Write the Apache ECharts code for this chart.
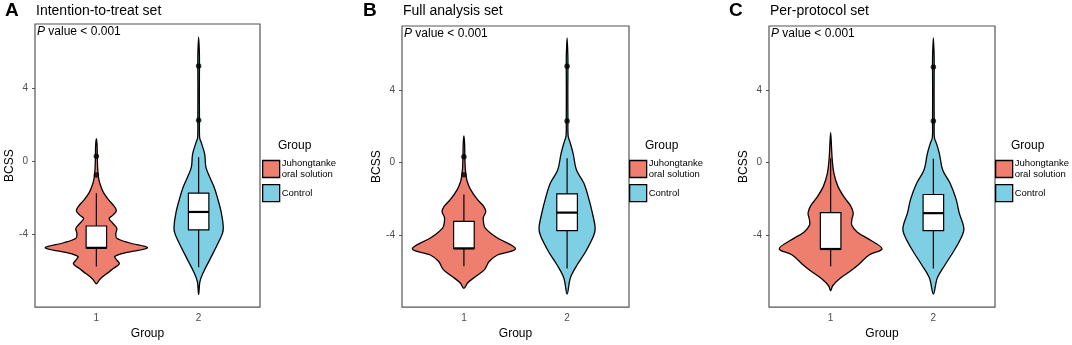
<!DOCTYPE html>
<html>
<head>
<meta charset="utf-8">
<script src="https://cdn.jsdelivr.net/npm/echarts@6/dist/echarts.min.js"></script>
<style>
  html, body { margin: 0; padding: 0; background: #fff; }
  #chart { width: 1072px; height: 345px; }
</style>
</head>
<body>
<div id="chart"></div>
<script>
// --- data ---
var groupNames = ['Juhongtanke oral solution', 'Control'];
var panelLetters = ['A', 'B', 'C'];
var panelTitles = ['Intention-to-treat set', 'Full analysis set', 'Per-protocol set'];
var xTicks = [1, 2];
var yTicks = [-4, 0, 4];

// violin outlines: [BCSS, half width of the violin in group units]
var ittJuhong = [[1.26, 0], [0.9, 0.007], [0.3, 0.009], [-0.4, 0.013], [-0.9, 0.022], [-1.3, 0.04], [-1.7, 0.07],
  [-2.1, 0.12], [-2.45, 0.175], [-2.7, 0.195], [-2.95, 0.16], [-3.12, 0.125], [-3.35, 0.155], [-3.65, 0.2],
  [-3.95, 0.19], [-4.2, 0.2], [-4.45, 0.32], [-4.73, 0.5], [-4.98, 0.3], [-5.2, 0.18], [-5.4, 0.2],
  [-5.6, 0.225], [-5.85, 0.17], [-6.15, 0.1], [-6.45, 0.035], [-6.7, 0]];
var ittControl = [[6.83, 0], [6.0, 0.007], [5.29, 0.008], [4.0, 0.007], [2.26, 0.008], [1.31, 0.01], [1.04, 0.026],
  [0.41, 0.059], [-0.3, 0.071], [-0.84, 0.108], [-1.38, 0.15], [-2.0, 0.185], [-2.81, 0.222], [-3.6, 0.241],
  [-3.95, 0.232], [-4.6, 0.179], [-5.32, 0.114], [-6.04, 0.049], [-6.57, 0.013], [-7.29, 0]];
var fasJuhong = [[1.48, 0], [1.0, 0.007], [0.31, 0.009], [-0.3, 0.013], [-0.68, 0.02], [-1.04, 0.032], [-1.49, 0.065],
  [-2.03, 0.13], [-2.4, 0.19], [-2.7, 0.212], [-3.03, 0.188], [-3.3, 0.19], [-3.6, 0.205], [-4.11, 0.31],
  [-4.76, 0.5], [-5.1, 0.325], [-5.46, 0.244], [-5.91, 0.2], [-6.3, 0.11], [-6.65, 0.035], [-6.95, 0]];
var fasControl = [[6.89, 0], [6.0, 0.007], [5.32, 0.008], [4.0, 0.007], [2.29, 0.008], [1.48, 0.01], [1.12, 0.029],
  [0.49, 0.059], [-0.41, 0.091], [-1.14, 0.163], [-2.03, 0.212], [-2.76, 0.244], [-3.6, 0.272], [-4.02, 0.258],
  [-4.92, 0.179], [-5.64, 0.098], [-6.36, 0.032], [-7.26, 0]];
var ppsJuhong = [[1.66, 0], [0.8, 0.009], [0.13, 0.016], [-0.59, 0.032], [-1.31, 0.071], [-1.95, 0.137],
  [-2.39, 0.195], [-2.79, 0.22], [-3.1, 0.208], [-3.45, 0.205], [-3.84, 0.26], [-4.29, 0.39], [-4.76, 0.5],
  [-5.1, 0.374], [-5.64, 0.27], [-6.0, 0.19], [-6.4, 0.09], [-6.8, 0.02], [-7.08, 0]];
var ppsControl = [[6.89, 0], [6.0, 0.007], [5.3, 0.008], [4.0, 0.007], [2.29, 0.008], [1.39, 0.01], [1.03, 0.032],
  [0.49, 0.059], [-0.41, 0.091], [-1.14, 0.163], [-2.03, 0.222], [-2.76, 0.251], [-3.65, 0.297], [-4.19, 0.267],
  [-4.92, 0.195], [-5.64, 0.114], [-6.36, 0.039], [-7.26, 0]];

// box stats: [lower whisker, Q1, median, Q3, upper whisker]
var ittBox = [[-5.75, -4.73, -4.73, -3.53, -1.73], [-5.8, -3.74, -2.76, -1.73, 0.24]];
var fasBox = [[-5.73, -4.74, -4.74, -3.24, -1.76], [-5.85, -3.75, -2.76, -1.73, 0.25]];
var ppsBox = [[-5.73, -4.77, -4.77, -2.76, 0.25], [-5.85, -3.75, -2.79, -1.76, 0.22]];

// outliers: [group, BCSS]
var ittOutliers = [[1, 0.3], [1, -0.74], [2, 5.25], [2, 2.27]];
var fasOutliers = [[1, 0.32], [1, -0.67], [2, 5.32], [2, 2.3]];
var ppsOutliers = [[2, 5.29], [2, 2.3]];

var pValueText = '{i|P} value < 0.001';

// --- styling ---
var FONT = '"Liberation Sans", Arial, Helvetica, sans-serif';
var colors = ['#EE7F6F', '#7ECFE4'];
var BOX_HALF = 0.1;

var grids = [
  { left: 35, top: 24, width: 225, height: 289 },
  { left: 402, top: 26, width: 227, height: 288 },
  { left: 769, top: 26, width: 226, height: 288 }
];
var letterLeft = [5, 363, 729];
var legendLeft = [262, 629, 995];

var violins = [[ittJuhong, ittControl], [fasJuhong, fasControl], [ppsJuhong, ppsControl]];
var boxes = [ittBox, fasBox, ppsBox];
var outliers = [ittOutliers, fasOutliers, ppsOutliers];

function violinRenderer(profile, stats, xPos) {
  return function (params, api) {
    var pts = [];
    var back = [];
    profile.forEach(function (p) {
      pts.push(api.coord([xPos - p[1], p[0]]));
      if (p[1] > 0) {
        back.unshift(api.coord([xPos + p[1], p[0]]));
      }
    });
    pts = pts.concat(back);
    var lo = api.coord([xPos - BOX_HALF, stats[1]]);
    var hi = api.coord([xPos + BOX_HALF, stats[3]]);
    var medL = api.coord([xPos - BOX_HALF, stats[2]]);
    var medR = api.coord([xPos + BOX_HALF, stats[2]]);
    var wLo = api.coord([xPos, stats[0]]);
    var wHi = api.coord([xPos, stats[4]]);
    return {
      type: 'group',
      children: [
        {
          type: 'polygon',
          shape: { points: pts, smooth: 0.35 },
          style: { fill: api.visual('color'), stroke: '#000', lineWidth: 1.3 }
        },
        {
          type: 'line',
          shape: { x1: wLo[0], y1: wLo[1], x2: wHi[0], y2: wHi[1] },
          style: { stroke: '#000', lineWidth: 1.2 }
        },
        {
          type: 'rect',
          shape: { x: lo[0], y: hi[1], width: hi[0] - lo[0], height: lo[1] - hi[1] },
          style: { fill: '#fff', stroke: '#000', lineWidth: 1.2 }
        },
        {
          type: 'line',
          shape: { x1: medL[0], y1: medL[1], x2: medR[0], y2: medR[1] },
          style: { stroke: '#000', lineWidth: 2.2 }
        }
      ]
    };
  };
}

var titles = [], xAxes = [], yAxes = [], legends = [], series = [];

grids.forEach(function (g, i) {
  titles.push({
    text: panelLetters[i], left: letterLeft[i], top: 1, padding: 0,
    textStyle: { fontFamily: FONT, fontSize: 19, fontWeight: 'bold', color: '#000' }
  });
  titles.push({
    text: panelTitles[i], left: g.left + 1, top: 4, padding: 0,
    textStyle: { fontFamily: FONT, fontSize: 14, fontWeight: 'normal', color: '#000' }
  });
  titles.push({
    text: pValueText, left: g.left + 2, top: g.top + 2, padding: 0,
    textStyle: {
      fontFamily: FONT, fontSize: 12, fontWeight: 'normal', color: '#000',
      rich: { i: { fontFamily: FONT, fontSize: 12, fontStyle: 'italic', color: '#000' } }
    }
  });
  titles.push({
    text: 'Group', left: legendLeft[i] + 16, top: 140, padding: 0,
    textStyle: { fontFamily: FONT, fontSize: 12, fontWeight: 'normal', color: '#000' }
  });

  xAxes.push({
    gridIndex: i, type: 'value', min: 0.4, max: 2.6,
    name: 'Group', nameLocation: 'middle', nameGap: 18,
    nameTextStyle: { fontFamily: FONT, fontSize: 12, color: '#000' },
    axisLine: { show: false },
    axisTick: { show: true, length: 3, lineStyle: { color: '#555' }, customValues: xTicks },
    axisLabel: { fontFamily: FONT, fontSize: 10, color: '#4d4d4d', margin: 6, customValues: xTicks },
    splitLine: { show: false }
  });
  yAxes.push({
    gridIndex: i, type: 'value', min: -7.98, max: 7.55,
    name: 'BCSS', nameLocation: 'middle', nameGap: 16,
    nameTextStyle: { fontFamily: FONT, fontSize: 12, color: '#000' },
    axisLine: { show: false },
    axisTick: { show: true, length: 3, lineStyle: { color: '#555' }, customValues: yTicks },
    axisLabel: { fontFamily: FONT, fontSize: 10, color: '#4d4d4d', margin: 7, customValues: yTicks },
    splitLine: { show: false }
  });

  legends.push({
    left: legendLeft[i], top: 158, orient: 'vertical', padding: 0,
    itemWidth: 17, itemHeight: 17, itemGap: 4, icon: 'rect',
    selectedMode: false,
    data: groupNames,
    formatter: function (name) { return name.replace(' oral', '\noral'); },
    itemStyle: { borderColor: '#000', borderWidth: 1.3 },
    textStyle: { fontFamily: FONT, fontSize: 9.5, lineHeight: 11, color: '#000', padding: [0, 0, 0, -3] }
  });

  for (var k = 0; k < 2; k++) {
    series.push({
      type: 'custom',
      name: groupNames[k],
      xAxisIndex: i, yAxisIndex: i,
      silent: true,
      itemStyle: { color: colors[k] },
      renderItem: violinRenderer(violins[i][k], boxes[i][k], xTicks[k]),
      data: [[xTicks[k], boxes[i][k][2]]]
    });
  }
  series.push({
    type: 'scatter',
    name: 'outliers',
    xAxisIndex: i, yAxisIndex: i,
    silent: true,
    symbolSize: 5.5,
    itemStyle: { color: '#000' },
    z: 5,
    data: outliers[i]
  });
});

var myChart = echarts.init(document.getElementById('chart'));
myChart.setOption({
  animation: false,
  backgroundColor: '#fff',
  textStyle: { fontFamily: FONT },
  title: titles,
  grid: grids.map(function (g) {
    return Object.assign({ show: true, borderColor: '#555', borderWidth: 1.2, backgroundColor: 'transparent' }, g);
  }),
  xAxis: xAxes,
  yAxis: yAxes,
  legend: legends,
  series: series
});
</script>
</body>
</html>
